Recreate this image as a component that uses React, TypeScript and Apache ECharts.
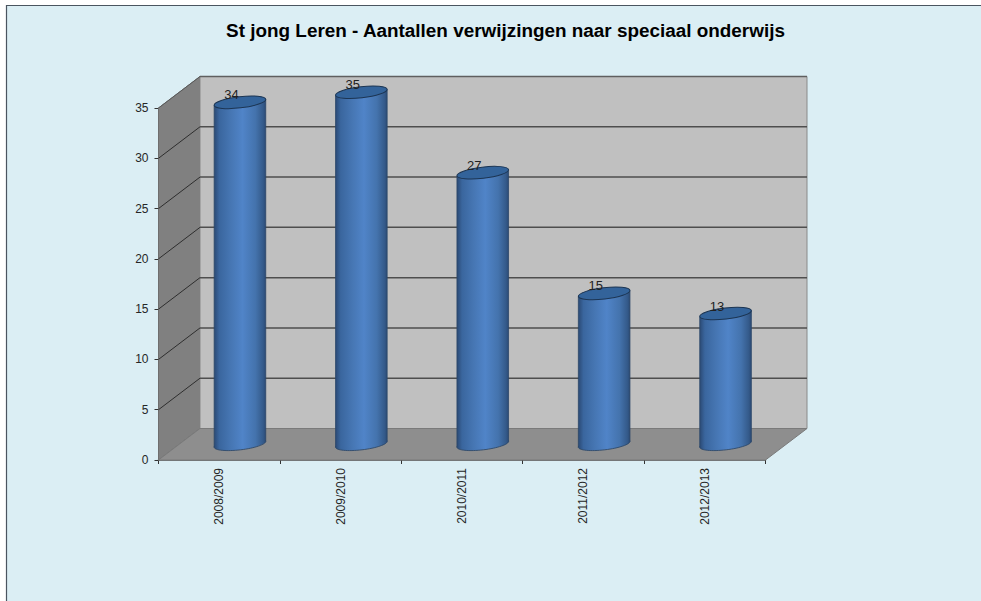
import React, { useEffect, useRef } from "react";
import * as echarts from "echarts";

const titleText = "St jong Leren - Aantallen verwijzingen naar speciaal onderwijs";
const categories = ["2008/2009", "2009/2010", "2010/2011", "2011/2012", "2012/2013"];
const referrals = [34, 35, 27, 15, 13];
const yMax = 35;
const yStep = 5;
const gridLevels = [5, 10, 15, 20, 25, 30];

const DEPTH_X = 41.5;
const DEPTH_Y = 31.5;
const FONT = '"Liberation Sans", Arial, sans-serif';

export default function App() {
  const ref = useRef<HTMLDivElement>(null);
  useEffect(() => {
    const chart = echarts.init(ref.current!, null, { renderer: "svg" });

    const renderRoom = (_p: any, api: any) => {
      const x0 = api.coord([0, 0])[0] - (api.size([1, 0])[0] as number) / 2;
      const x1 = x0 + (api.size([1, 0])[0] as number) * categories.length;
      const yAt = (v: number) => api.coord([0, v])[1];
      const y0 = yAt(0);
      const yT = yAt(yMax);
      const bx0 = x0 + DEPTH_X;
      const bx1 = x1 + DEPTH_X;
      const children: any[] = [
        { type: "polygon", shape: { points: [[x0, y0], [bx0, y0 - DEPTH_Y], [bx0, yT - DEPTH_Y], [x0, yT]] }, style: { fill: "#808080", stroke: "#6e6e6e", lineWidth: 1 } },
        { type: "polygon", shape: { points: [[bx0, y0 - DEPTH_Y], [bx1, y0 - DEPTH_Y], [bx1, yT - DEPTH_Y], [bx0, yT - DEPTH_Y]] }, style: { fill: "#c0c0c0", stroke: "#8a8a8a", lineWidth: 1 } },
        { type: "polygon", shape: { points: [[x0, y0], [x1, y0], [bx1, y0 - DEPTH_Y], [bx0, y0 - DEPTH_Y]] }, style: { fill: "#8e8e8e", stroke: "#7a7a7a", lineWidth: 1 } },
        { type: "line", shape: { x1: bx0, y1: yT - DEPTH_Y, x2: bx1, y2: yT - DEPTH_Y }, style: { stroke: "#5f5f5f", lineWidth: 1.5 } },
      ];
      gridLevels.forEach((v) => {
        const y = yAt(v);
        children.push({ type: "line", shape: { x1: x0, y1: y, x2: bx0, y2: y - DEPTH_Y }, style: { stroke: "#2e2e2e", lineWidth: 1 } });
        children.push({ type: "line", shape: { x1: bx0, y1: y - DEPTH_Y, x2: bx1, y2: y - DEPTH_Y }, style: { stroke: "#4e4e4e", lineWidth: 1.5 } });
      });
      children.push({ type: "line", shape: { x1: x0, y1: yT, x2: bx0, y2: yT - DEPTH_Y }, style: { stroke: "#5a5a5a", lineWidth: 1 } });
      return { type: "group", children };
    };

    const bodyFill = () =>
      new echarts.graphic.LinearGradient(0, 0, 1, 0, [
        { offset: 0, color: "#2b4a75" },
        { offset: 0.1, color: "#3a669e" },
        { offset: 0.32, color: "#4676b3" },
        { offset: 0.55, color: "#5084c8" },
        { offset: 0.8, color: "#4473ad" },
        { offset: 0.95, color: "#345a8a" },
        { offset: 1, color: "#2b4a75" },
      ]);

    const renderCylinder = (_p: any, api: any) => {
      const band = api.size([1, 0])[0] as number;
      const cx = api.coord([api.value(0), 0])[0] + DEPTH_X / 2;
      const yBase = api.coord([0, 0])[1] - DEPTH_Y / 2;
      const yTop = api.coord([0, api.value(1)])[1] - DEPTH_Y / 2;
      const halfW = band * 0.2125;
      const ry = 5.6;
      const rad = (6.7 * Math.PI) / 180;
      const rx = halfW / Math.cos(rad);
      const tilt = rx * Math.sin(rad);
      const edge = "#2b4668";
      return {
        type: "group",
        children: [
          {
            type: "ellipse",
            x: cx,
            y: yBase,
            rotation: rad,
            shape: { cx: 0, cy: 0, rx, ry },
            style: { fill: bodyFill(), stroke: edge, lineWidth: 0.8 },
          },
          {
            type: "polygon",
            shape: {
              points: [
                [cx - halfW, yTop + tilt],
                [cx + halfW, yTop - tilt],
                [cx + halfW, yBase - tilt],
                [cx - halfW, yBase + tilt],
              ],
            },
            style: { fill: bodyFill() },
          },
          { type: "line", shape: { x1: cx - halfW, y1: yTop + tilt, x2: cx - halfW, y2: yBase + tilt }, style: { stroke: edge, lineWidth: 0.8 } },
          { type: "line", shape: { x1: cx + halfW, y1: yTop - tilt, x2: cx + halfW, y2: yBase - tilt }, style: { stroke: edge, lineWidth: 0.8 } },
          {
            type: "ellipse",
            x: cx,
            y: yTop,
            rotation: rad,
            shape: { cx: 0, cy: 0, rx, ry },
            style: { fill: "#33639a", stroke: "#1c3553", lineWidth: 1 },
          },
          {
            type: "text",
            style: {
              x: cx - 8.5,
              y: yTop - 7.5,
              text: String(api.value(1)),
              fill: "#222222",
              font: `13px ${FONT}`,
              textAlign: "center",
              textVerticalAlign: "middle",
            },
          },
        ],
      };
    };

    chart.setOption({
      animation: false,
      backgroundColor: "#ffffff",
      textStyle: { fontFamily: FONT },
      title: {
        text: titleText,
        left: 500.5,
        top: 16,
        textAlign: "center",
        textStyle: { fontFamily: FONT, fontSize: 18.9, fontWeight: "bold", color: "#000000" },
      },
      graphic: [
        {
          type: "rect",
          z: -10,
          shape: { x: 6.5, y: 5.5, width: 980, height: 600 },
          style: { fill: "#dbeef4", stroke: "#4a5560", lineWidth: 1.2 },
        },
      ],
      grid: { left: 158.5, right: 215.5, top: 108, bottom: 141 },
      xAxis: {
        type: "category",
        data: categories,
        axisLine: { lineStyle: { color: "#4a4a4a", width: 1.5 } },
        axisTick: { show: true, alignWithLabel: false, length: 4, lineStyle: { color: "#333333" } },
        axisLabel: { rotate: 90, fontSize: 12, color: "#262626", margin: 8, fontFamily: FONT },
        splitLine: { show: false },
      },
      yAxis: {
        type: "value",
        min: 0,
        max: yMax,
        interval: yStep,
        axisLine: { show: true, lineStyle: { color: "#4a4a4a" } },
        axisTick: { show: true, length: 4, lineStyle: { color: "#333333" } },
        axisLabel: { fontSize: 12, color: "#262626", margin: 10, fontFamily: FONT },
        splitLine: { show: false },
      },
      series: [
        { type: "custom", coordinateSystem: "cartesian2d", data: [[0, 0]], renderItem: renderRoom, silent: true, z: 1, clip: false },
        {
          type: "custom",
          coordinateSystem: "cartesian2d",
          data: referrals.map((v, i) => [i, v]),
          encode: { x: 0, y: 1 },
          renderItem: renderCylinder,
          z: 2,
          clip: false,
        },
      ],
    });
    return () => chart.dispose();
  }, []);
  return <div ref={ref} style={{ position: "fixed", left: 0, top: 0, width: 981, height: 601 }} />;
}
